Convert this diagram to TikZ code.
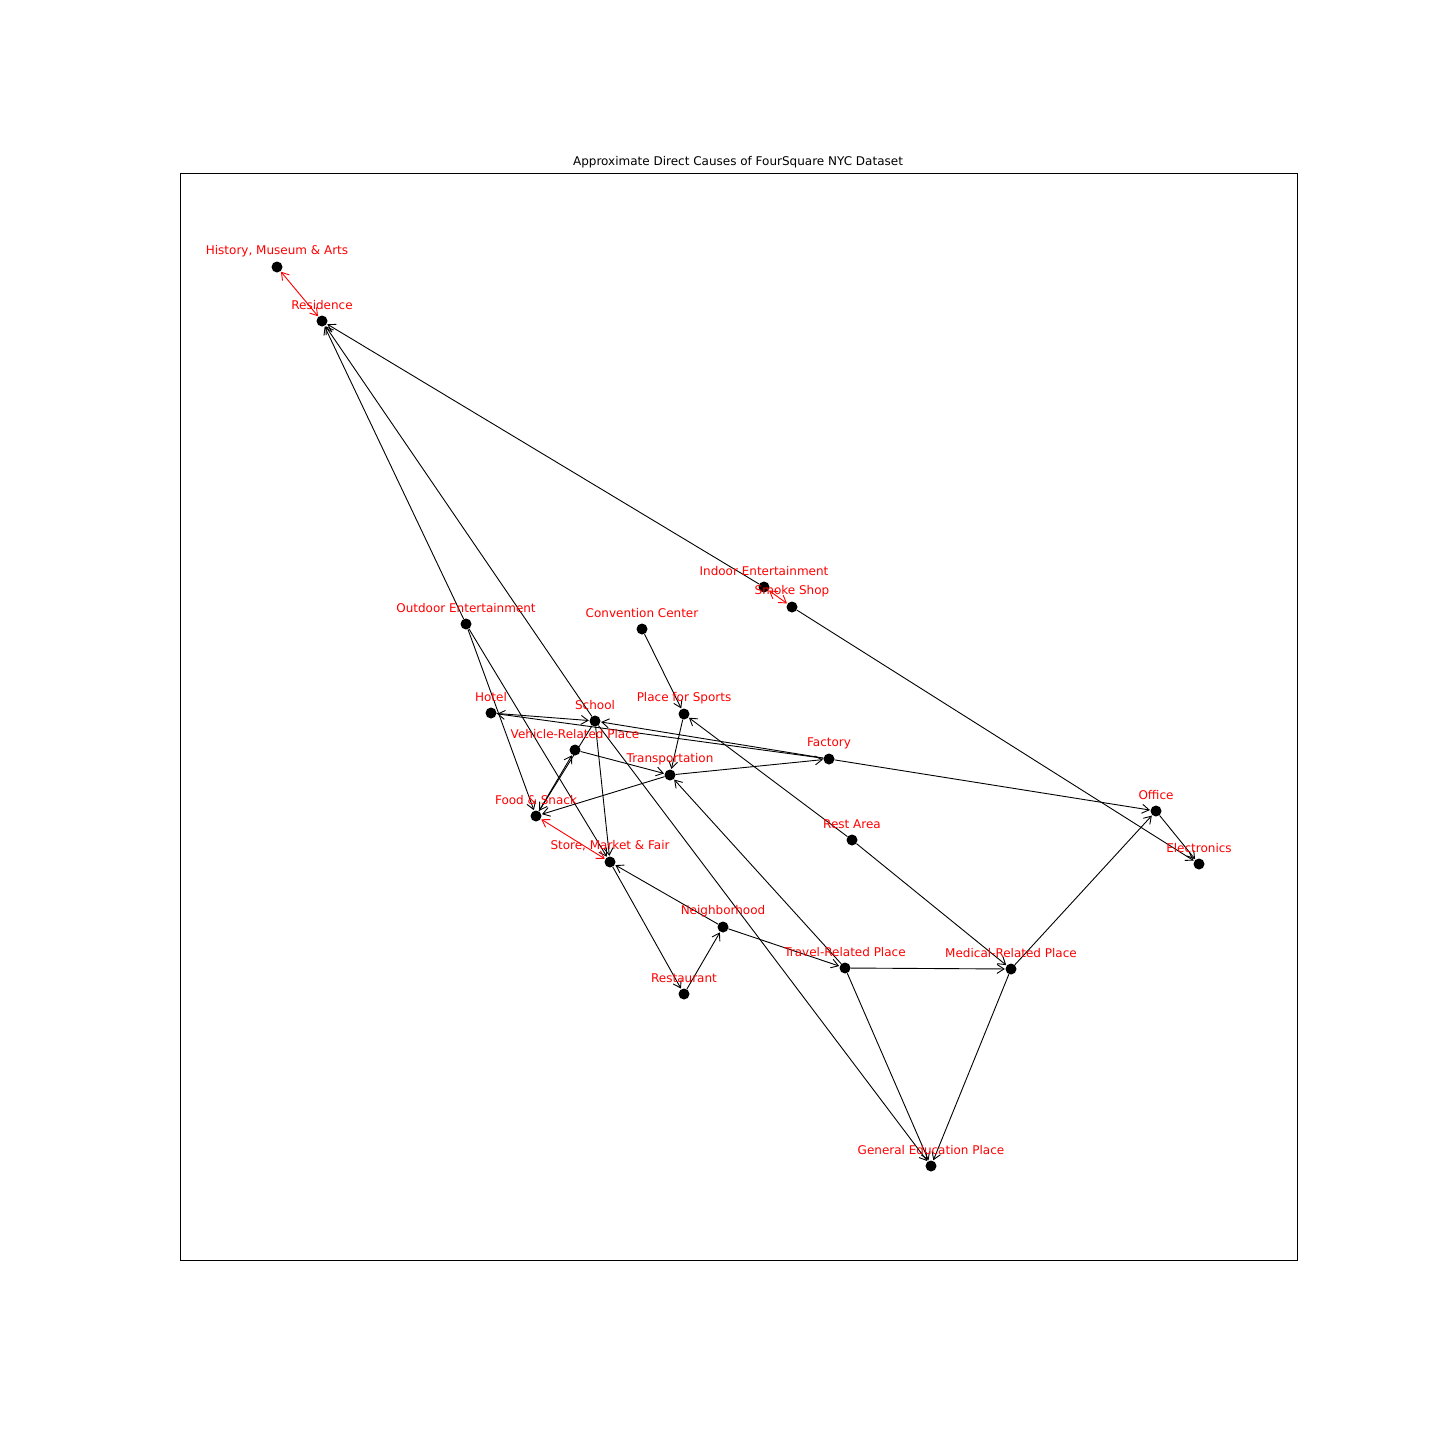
\documentclass[tikz,border=0pt]{standalone}
\usepackage{fontspec}
\setmainfont{DejaVu Sans}
\usetikzlibrary{arrows.meta}
\definecolor{lblred}{RGB}{255,0,0}
\begin{document}
\begin{tikzpicture}[x=1pt,y=-1pt,
  dot/.style={circle,fill=black,draw=none,minimum size=11pt,inner sep=0pt},
  lbl/.style={text=lblred,font=\fontsize{12}{14}\selectfont,inner sep=0pt,anchor=center,yshift=16pt},
  edge/.style={draw=black,line width=0.9pt,-{Straight Barb[length=7pt,width=9pt,line width=0.9pt]},shorten >=0.5pt},
  both/.style={draw=lblred,line width=0.9pt,{Straight Barb[length=7pt,width=9pt,line width=0.9pt]}-{Straight Barb[length=7pt,width=9pt,line width=0.9pt]},shorten >=0.5pt,shorten <=0.5pt}]
\useasboundingbox[fill=white] (0,0) rectangle (1440,1440);
% axes frame and title
\draw[line width=0.8pt] (180,173) rectangle (1297,1260);
\node[font=\fontsize{12}{14}\selectfont,inner sep=0pt] (title) at (738,162) {Approximate Direct Causes of FourSquare NYC Dataset};
% category nodes
\node[dot] (hist) at (277,267) {};
\node[dot] (res) at (322,321) {};
\node[dot] (indoor) at (764,587) {};
\node[dot] (smoke) at (792,607) {};
\node[dot] (outdoor) at (466,624) {};
\node[dot] (conv) at (642,629) {};
\node[dot] (hotel) at (491,713) {};
\node[dot] (school) at (595,721) {};
\node[dot] (sports) at (684,714) {};
\node[dot] (vehicle) at (575,750) {};
\node[dot] (factory) at (829,759) {};
\node[dot] (transp) at (670,775) {};
\node[dot] (food) at (536,816) {};
\node[dot] (office) at (1156,811) {};
\node[dot] (rest) at (852,840) {};
\node[dot] (elec) at (1199,864) {};
\node[dot] (store) at (610,862) {};
\node[dot] (neigh) at (723,927) {};
\node[dot] (travel) at (845,968) {};
\node[dot] (medical) at (1011,969) {};
\node[dot] (restaurant) at (684,994) {};
\node[dot] (gened) at (931,1166) {};
% directed causes
\draw[edge] (outdoor) -- (res);
\draw[edge] (school) -- (res);
\draw[edge] (indoor) -- (res);
\draw[edge] (outdoor) -- (food);
\draw[edge] (outdoor) -- (store);
\draw[edge] (hotel) -- (school);
\draw[edge] (factory) -- (hotel);
\draw[edge] (factory) -- (school);
\draw[edge] (factory) -- (office);
\draw[edge] (transp) -- (factory);
\draw[edge] (transp) -- (food);
\draw[edge] (vehicle) -- (transp);
\draw[edge] (sports) -- (transp);
\draw[edge] (conv) -- (sports);
\draw[edge] (rest) -- (sports);
\draw[edge] (rest) -- (medical);
\draw[edge] (travel) -- (transp);
\draw[edge] (travel) -- (medical);
\draw[edge] (travel) -- (gened);
\draw[edge] (medical) -- (gened);
\draw[edge] (medical) -- (office);
\draw[edge] (school) -- (gened);
\draw[edge] (school) -- (store);
\draw[edge] (school) -- (food);
\draw[edge] (food) -- (vehicle);
\draw[edge] (neigh) -- (store);
\draw[edge] (neigh) -- (travel);
\draw[edge] (restaurant) -- (neigh);
\draw[edge] (store) -- (restaurant);
\draw[edge] (smoke) -- (elec);
\draw[edge] (office) -- (elec);
% mutual causes
\draw[both] (hist) -- (res);
\draw[both] (indoor) -- (smoke);
\draw[both] (food) -- (store);
% names
\node[lbl] at (hist) {History, Museum \& Arts};
\node[lbl] at (res) {Residence};
\node[lbl] at (indoor) {Indoor Entertainment};
\node[lbl] at (smoke) {Smoke Shop};
\node[lbl] at (outdoor) {Outdoor Entertainment};
\node[lbl] at (conv) {Convention Center};
\node[lbl] at (hotel) {Hotel};
\node[lbl] at (school) {School};
\node[lbl] at (sports) {Place for Sports};
\node[lbl] at (vehicle) {Vehicle-Related Place};
\node[lbl] at (factory) {Factory};
\node[lbl] at (transp) {Transportation};
\node[lbl] at (food) {Food \& Snack};
\node[lbl] at (office) {Office};
\node[lbl] at (rest) {Rest Area};
\node[lbl] at (elec) {Electronics};
\node[lbl] at (store) {Store, Market \& Fair};
\node[lbl] at (neigh) {Neighborhood};
\node[lbl] at (travel) {Travel-Related Place};
\node[lbl] at (medical) {Medical-Related Place};
\node[lbl] at (restaurant) {Restaurant};
\node[lbl] at (gened) {General Education Place};
\end{tikzpicture}
\end{document}
